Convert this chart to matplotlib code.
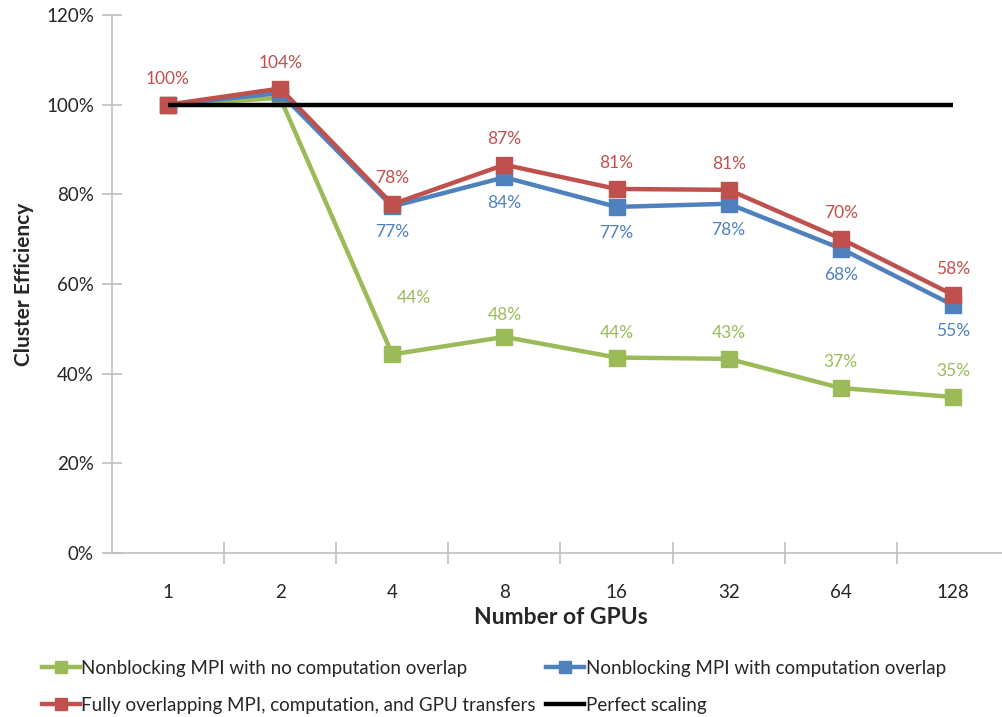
import matplotlib
matplotlib.use("Agg")
import matplotlib.pyplot as plt
from matplotlib.lines import Line2D
from matplotlib.ticker import FixedLocator, FuncFormatter

plt.rcParams['font.family'] = ['Lato', 'DejaVu Sans']

# Data
gpus = ["1", "2", "4", "8", "16", "32", "64", "128"]
no_overlap = [100, 101.5, 44.3, 48.2, 43.6, 43.3, 36.8, 34.8]
comp_overlap = [100, 102.6, 77.3, 83.8, 77.2, 77.9, 67.9, 55.3]
full_overlap = [100, 103.6, 77.8, 86.6, 81.2, 81.0, 70.1, 57.6]
perfect = [100] * len(gpus)

labels_no_overlap = [None, None, "44%", "48%", "44%", "43%", "37%", "35%"]
labels_comp_overlap = [None, None, "77%", "84%", "77%", "78%", "68%", "55%"]
labels_full_overlap = ["100%", "104%", "78%", "87%", "81%", "81%", "70%", "58%"]

series_names = [
    "Nonblocking MPI with no computation overlap",
    "Nonblocking MPI with computation overlap",
    "Fully overlapping MPI, computation, and GPU transfers",
    "Perfect scaling",
]

GREEN = "#9BBB59"
BLUE = "#4F81BD"
RED = "#C0504D"
BLACK = "#000000"
AXIS_GRAY = "#BFBFBF"
TEXT = "#262626"

W, H = 1003, 717
fig = plt.figure(figsize=(W / 100, H / 100), dpi=100)

left, right, top, bottom = 112, 1009, 15, 553
ax = fig.add_axes([left / W, (H - bottom) / H, (right - left) / W, (bottom - top) / H])

x = list(range(len(gpus)))
lw = 3.2
ms = 11

for vals, col in [(no_overlap, GREEN), (comp_overlap, BLUE), (full_overlap, RED)]:
    ax.plot(x, vals, color=col, lw=lw, marker="s", ms=ms, mec=col, mfc=col,
            solid_joinstyle="miter", zorder=3)
ax.plot(x, perfect, color=BLACK, lw=lw, zorder=4, solid_capstyle="butt")

# data labels (offsets in pixels)
green_offsets = [None, None, (22, 56), (0, 22), (0, 25), (0, 26), (0, 26), (0, 26)]
label_fs = 12.5
for xi, v, t, off in zip(x, no_overlap, labels_no_overlap, green_offsets):
    if t:
        ax.annotate(t, (xi, v), xytext=off, textcoords="offset pixels",
                    ha="center", va="center", color=GREEN, fontsize=label_fs)
for xi, v, t in zip(x, comp_overlap, labels_comp_overlap):
    if t:
        ax.annotate(t, (xi, v), xytext=(0, -26), textcoords="offset pixels",
                    ha="center", va="center", color=BLUE, fontsize=label_fs)
for xi, v, t in zip(x, full_overlap, labels_full_overlap):
    if t:
        ax.annotate(t, (xi, v), xytext=(0, 26), textcoords="offset pixels",
                    ha="center", va="center", color=RED, fontsize=label_fs)

ax.set_xlim(-0.5, len(gpus) - 0.5)
ax.set_ylim(0, 120)

ax.yaxis.set_major_locator(FixedLocator([0, 20, 40, 60, 80, 100, 120]))
ax.yaxis.set_major_formatter(FuncFormatter(lambda v, p: f"{v:.0f}%"))
ax.set_xticks(x)
ax.set_xticklabels(gpus)
ax.set_xticks([i + 0.5 for i in range(len(gpus))], minor=True)

for s in ["top", "right"]:
    ax.spines[s].set_visible(False)
for s in ["left", "bottom"]:
    ax.spines[s].set_color(AXIS_GRAY)
    ax.spines[s].set_linewidth(1.2)

ax.tick_params(axis="y", which="major", direction="inout", length=14, width=1.2,
               color=AXIS_GRAY, labelsize=13.5, labelcolor=TEXT, pad=6)
ax.tick_params(axis="x", which="major", length=0, labelsize=13.5, labelcolor=TEXT, pad=22)
ax.tick_params(axis="x", which="minor", direction="inout", length=16, width=1.2,
               color=AXIS_GRAY)

ax.set_xlabel("Number of GPUs", fontsize=16.5, fontweight="bold", color=TEXT, labelpad=5)
ax.set_ylabel("Cluster Efficiency", fontsize=15, fontweight="bold", color=TEXT, labelpad=9)

# legend filled column by column: col 1 = green, red; col 2 = blue, black
handles = {
    0: Line2D([], [], color=GREEN, lw=lw, marker="s", ms=9),
    1: Line2D([], [], color=BLUE, lw=lw, marker="s", ms=9),
    2: Line2D([], [], color=RED, lw=lw, marker="s", ms=9),
    3: Line2D([], [], color=BLACK, lw=lw),
}
order = [0, 2, 1, 3]
leg = fig.legend([handles[i] for i in order], [series_names[i] for i in order],
                 loc="upper left", bbox_to_anchor=(42 / W, 1 - 660 / H), ncol=2,
                 frameon=False, fontsize=13.5, handlelength=2.0, handletextpad=0.1,
                 columnspacing=0.55, labelspacing=1.05, borderaxespad=0, borderpad=0)
for t in leg.get_texts():
    t.set_color(TEXT)

fig.savefig("out.png", dpi=100, facecolor="white")
